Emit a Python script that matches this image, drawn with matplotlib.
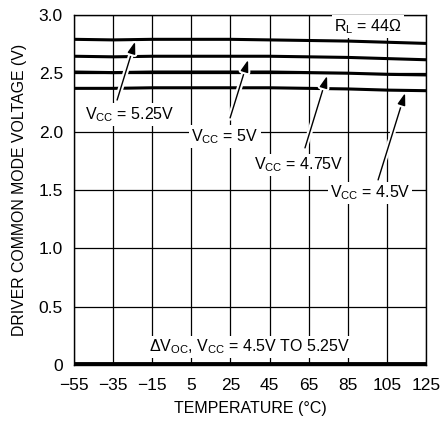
import matplotlib
matplotlib.use("Agg")
import matplotlib.pyplot as plt
import matplotlib.patheffects as pe
from matplotlib import font_manager

fams = [f.name for f in font_manager.fontManager.ttflist]
base = "Liberation Sans Narrow" if "Liberation Sans Narrow" in fams else "Liberation Sans"
plt.rcParams["font.family"] = [base, "DejaVu Sans"]
plt.rcParams["mathtext.fontset"] = "custom"
plt.rcParams["mathtext.rm"] = base
plt.rcParams["mathtext.it"] = base
plt.rcParams["mathtext.default"] = "rm"

# 数据
temps = [-55, -35, -15, 5, 25, 45, 65, 85, 105, 125]
v525 = [2.79, 2.785, 2.79, 2.79, 2.79, 2.785, 2.78, 2.775, 2.765, 2.755]
v500 = [2.645, 2.64, 2.645, 2.645, 2.645, 2.645, 2.64, 2.635, 2.625, 2.615]
v475 = [2.51, 2.505, 2.51, 2.51, 2.51, 2.51, 2.505, 2.50, 2.49, 2.485]
v450 = [2.37, 2.37, 2.375, 2.375, 2.375, 2.375, 2.37, 2.365, 2.355, 2.35]
dvoc = [0.01] * len(temps)

xticks = [-55, -35, -15, 5, 25, 45, 65, 85, 105, 125]
yticks = [0, 0.5, 1.0, 1.5, 2.0, 2.5, 3.0]
ytick_labels = ["0", "0.5", "1.0", "1.5", "2.0", "2.5", "3.0"]

fig = plt.figure(figsize=(4.41, 4.23), dpi=100)
ax = fig.add_axes([0.168, 0.137, 0.798, 0.828])

for v in (v525, v500, v475, v450):
    ax.plot(temps, v, color="black", linewidth=2.2, solid_capstyle="butt", zorder=3)
ax.plot(temps, dvoc, color="black", linewidth=3.5, solid_capstyle="butt", zorder=3)

ax.set_xlim(-55, 125)
ax.set_ylim(0, 3.0)
ax.set_xticks(xticks)
ax.set_xticklabels([str(t).replace("-", "\u2212") for t in xticks])
ax.set_yticks(yticks)
ax.set_yticklabels(ytick_labels)
ax.tick_params(length=0, labelsize=12.5)
ax.tick_params(axis="x", pad=9)
ax.tick_params(axis="y", pad=8)
ax.grid(color="black", linewidth=0.9)
for s in ax.spines.values():
    s.set_linewidth(1.0)

ax.set_xlabel("TEMPERATURE (\u00b0C)", fontsize=11.5, labelpad=6)
ax.set_ylabel("DRIVER COMMON MODE VOLTAGE (V)", fontsize=11.4, labelpad=8)

box = dict(facecolor="white", edgecolor="none", pad=1.5)
arrow = dict(arrowstyle="-|>,head_length=0.55,head_width=0.18", color="black", lw=1.0,
             mutation_scale=13, shrinkA=0, shrinkB=0,
             path_effects=[pe.withStroke(linewidth=4, foreground="white")])

notes = [
    ("V$_{\\mathrm{CC}}$ = 5.25V", (-26.4, 2.143), (-33, 2.27), (-23.8, 2.77)),
    ("V$_{\\mathrm{CC}}$ = 5V", (22.2, 1.954), (24.8, 2.117), (34, 2.614)),
    ("V$_{\\mathrm{CC}}$ = 4.75V", (60.1, 1.714), (63.1, 1.86), (74.4, 2.477)),
    ("V$_{\\mathrm{CC}}$ = 4.5V", (96.4, 1.474), (100.5, 1.586), (114.3, 2.33)),
]
for txt, tpos, start, tip in notes:
    ax.annotate("", xy=tip, xytext=start, arrowprops=arrow, zorder=4)
    ax.text(*tpos, txt, ha="center", va="center", fontsize=11.5, bbox=box, zorder=5)

ax.text(95.3, 2.897, "R$_{\\mathrm{L}}$ = 44\u03a9", ha="center", va="center",
        fontsize=11.5, bbox=box, zorder=5)
ax.text(35, 0.154, "\u0394V$_{\\mathrm{OC}}$, V$_{\\mathrm{CC}}$ = 4.5V TO 5.25V",
        ha="center", va="center", fontsize=11.5, bbox=box, zorder=5)

fig.savefig("out.png", dpi=100)
